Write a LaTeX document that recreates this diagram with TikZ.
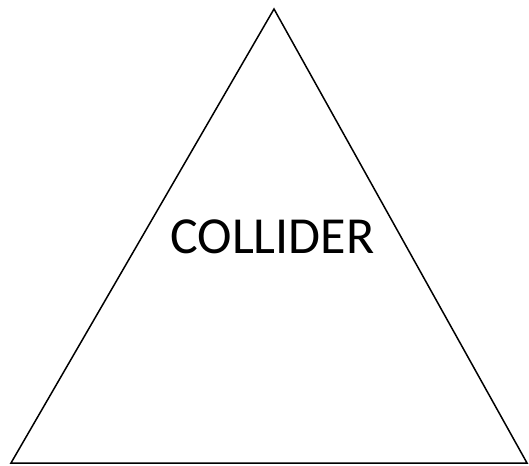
\documentclass[tikz,border=0pt]{standalone}
\usepackage{fontspec}
\setmainfont{Carlito}
\begin{document}
\begin{tikzpicture}[x=1pt,y=-1pt,
  tri/.style={draw=black,line width=1.5pt,line join=miter},
  lbl/.style={font=\fontsize{52}{60}\selectfont,inner sep=0pt,anchor=base}]
\useasboundingbox (0,0) rectangle (529,465);
\coordinate (apex) at (274,9);
\coordinate (bl) at (11,463);
\coordinate (br) at (527,463);
\draw[tri] (apex) -- (br) -- (bl) -- cycle;
\node[lbl] (label) at (272.5,253) {COLLIDER};
\end{tikzpicture}
\end{document}
